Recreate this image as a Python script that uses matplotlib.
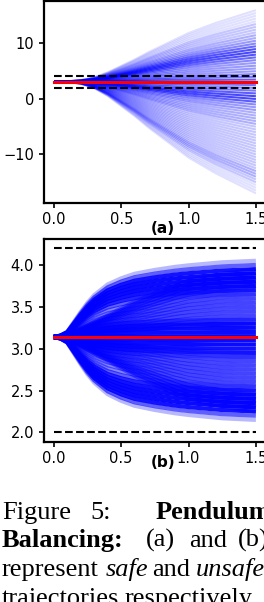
import matplotlib.pyplot as plt

# reference angle (red line) and the dashed bounds
theta_ref = 3.14
bound_lo = 2.0
bound_hi = 4.2
t_start = 0.0
t_end = 1.5

# (a) safe trajectories: time grid, spread profile, end values and how many lines end there
t_a = [0, 0.1, 0.2, 0.3, 0.4, 0.5, 0.6, 0.7, 0.8, 0.9, 1.0, 1.1, 1.2, 1.3, 1.4, 1.5]
prof_a = [0, 0.005, 0.02, 0.06, 0.13, 0.22, 0.31, 0.41, 0.5, 0.59, 0.68, 0.75, 0.82, 0.88, 0.94, 1.0]
ends_a = [16, 15.5, 15, 14.5, 14, 13.5, 13, 12.5, 12, 11.5, 11, 10.5, 10, 9.5, 9, 8.5, 8,
          7.5, 7, 6.5, 6, 5.5, 5, 4.5, 4, 3.5, 3, 2.5, 2, 1.5, 1, 0.5, 0, -0.5, -1,
          -1.5, -2, -2.5, -3, -3.5, -4, -4.5, -5, -5.5, -6, -6.5, -7, -7.5, -8, -8.5,
          -9, -9.5, -10, -10.5, -11, -11.5, -12, -12.5, -13, -13.5, -14, -14.5, -15,
          -15.5, -16, -16.5, -17]
count_a = [1, 1, 1, 1, 1, 2, 2, 2, 2, 3, 3, 4, 5, 7, 9, 10, 9,
           7, 5, 4, 4, 4, 4, 5, 6, 8, 8, 6, 5, 6, 8, 10, 10, 8, 5,
           4, 4, 3, 3, 3, 3, 3, 2, 2, 2, 2, 2, 2, 2, 2,
           2, 2, 2, 2, 2, 2, 2, 2, 3, 3, 3, 2, 2,
           1, 1, 1, 1]

# (b) unsafe trajectories: two spread profiles (early / late divergence)
t_b = [0, 0.05, 0.1, 0.15, 0.2, 0.25, 0.3, 0.4, 0.5, 0.6, 0.75, 0.9, 1.0, 1.25, 1.5]
prof_b_early = [0, 0.02, 0.07, 0.2, 0.33, 0.45, 0.55, 0.69, 0.77, 0.83, 0.88, 0.92, 0.94, 0.98, 1.0]
prof_b_late = [0, 0.01, 0.03, 0.07, 0.12, 0.17, 0.22, 0.32, 0.42, 0.52, 0.64, 0.76, 0.83, 0.93, 1.0]
ends_b = [4.05, 4.0, 3.95, 3.9, 3.85, 3.8, 3.75, 3.7, 3.65, 3.6, 3.55, 3.5, 3.45, 3.4,
          3.35, 3.3, 3.25, 3.2, 3.15, 3.1, 3.05, 3.0, 2.95, 2.9, 2.85, 2.8, 2.75, 2.7,
          2.65, 2.6, 2.55, 2.5, 2.45, 2.4, 2.35, 2.3, 2.25, 2.2, 2.15]
count_b_early = [1, 3, 8, 10, 10, 10, 8, 6, 3, 2, 2, 2, 2, 2,
                 4, 8, 10, 10, 12, 10, 10, 8, 6, 3, 2, 2, 2, 2,
                 2, 2, 3, 6, 8, 10, 10, 10, 8, 3, 1]
count_b_late = [0, 0, 2, 3, 3, 3, 3, 2, 2, 2, 2, 2, 2, 2,
                2, 2, 0, 0, 0, 0, 0, 0, 2, 2, 2, 2, 2, 2,
                2, 2, 2, 2, 3, 3, 3, 3, 2, 0, 0]

xticks = [0.0, 0.5, 1.0, 1.5]
yticks_a = [-10, 0, 10]
yticks_b = [2.0, 2.5, 3.0, 3.5, 4.0]

W, H = 264, 602


def draw_fan(ax, t, prof, ends, counts, a0, lw):
    # lines ending at the same value are drawn once with the stacked opacity
    for e, n in zip(ends, counts):
        if n == 0:
            continue
        y = [theta_ref + p * (e - theta_ref) for p in prof]
        ax.plot(t, y, color='b', lw=lw, alpha=1 - (1 - a0) ** n,
                solid_capstyle='butt', zorder=1)


def finish(ax, yticks, label, label_y):
    ax.hlines([bound_lo, bound_hi], t_start, t_end, colors='k',
              linestyles='--', lw=1.5, zorder=3)
    ax.plot([t_start, t_end], [theta_ref, theta_ref], color='r', lw=2.2, zorder=4)
    ax.set_xticks(xticks)
    ax.set_yticks(yticks)
    ax.tick_params(labelsize=10.5, width=1.2)
    for s in ax.spines.values():
        s.set_linewidth(1.6)
    ax.set_xlabel(label, fontsize=11, fontweight='bold', va='center')
    ax.xaxis.set_label_coords(0.536, label_y)


fig = plt.figure(figsize=(W / 100, H / 100), dpi=100)

ax1 = fig.add_axes([44 / W, 1 - 202.5 / H, (266 - 44) / W, 201.5 / H])
draw_fan(ax1, t_a, prof_a, ends_a, count_a, 0.12, 1.5)
finish(ax1, yticks_a, '(a)', -0.13)

ax2 = fig.add_axes([43.7 / W, 1 - 441.7 / H, (266 - 43.7) / W, 202.7 / H])
draw_fan(ax2, t_b, prof_b_early, ends_b, count_b_early, 0.28, 3)
draw_fan(ax2, t_b, prof_b_late, ends_b, count_b_late, 0.28, 3)
finish(ax2, yticks_b, '(b)', -0.105)

# caption, word by word (justified text in the paper)
caption = [
    (2, 519, 'Figure', 'normal', 'normal'),
    (90, 519, '5:', 'normal', 'normal'),
    (156, 519, 'Pendulum', 'bold', 'normal'),
    (2, 547, 'Balancing:', 'bold', 'normal'),
    (146, 547, '(a)', 'normal', 'normal'),
    (189, 547, 'and', 'normal', 'normal'),
    (238, 547, '(b)', 'normal', 'normal'),
    (2, 576, 'represent', 'normal', 'normal'),
    (106, 576, 'safe', 'normal', 'italic'),
    (152, 576, 'and', 'normal', 'normal'),
    (196, 576, 'unsafe', 'normal', 'italic'),
    (2, 605, 'trajectories', 'normal', 'normal'),
    (125, 605, 'respectively.', 'normal', 'normal'),
]
for x, y, word, weight, style in caption:
    fig.text(x / W, 1 - y / H, word, family='Liberation Serif', fontsize=19,
             fontweight=weight, fontstyle=style, ha='left', va='baseline')

fig.savefig('out.png', dpi=100)
